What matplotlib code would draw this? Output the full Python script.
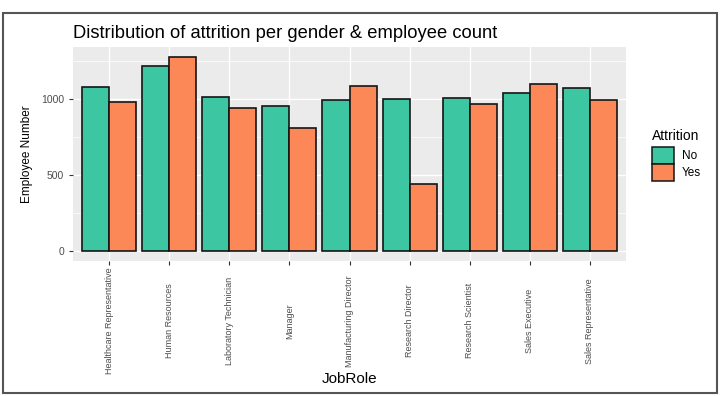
import numpy as np
import matplotlib
matplotlib.use("Agg")
import matplotlib.pyplot as plt
from matplotlib.patches import Patch, Rectangle
from matplotlib.ticker import MultipleLocator

plt.rcParams['font.family'] = ['Liberation Sans', 'DejaVu Sans']

# 数据
job_roles = ["Healthcare Representative", "Human Resources", "Laboratory Technician",
             "Manager", "Manufacturing Director", "Research Director",
             "Research Scientist", "Sales Executive", "Sales Representative"]
attrition_no = [1081, 1222, 1015, 954, 993, 1004, 1011, 1042, 1073]
attrition_yes = [980, 1281, 945, 813, 1086, 442, 969, 1099, 995]
legend_labels = ["No", "Yes"]

COLOR_NO = "#3CC6A2"
COLOR_YES = "#FC8858"

fig = plt.figure(figsize=(7.2, 3.96), dpi=100)
ax = fig.add_axes([73 / 720, 1 - 261 / 396, 553 / 720, 214 / 396])
ax.set_facecolor("#EBEBEB")

x = np.arange(len(job_roles))
w = 0.45
ax.bar(x - w / 2, attrition_no, width=w, color=COLOR_NO, edgecolor="#151515", linewidth=1.2, zorder=3)
ax.bar(x + w / 2, attrition_yes, width=w, color=COLOR_YES, edgecolor="#151515", linewidth=1.2, zorder=3)

ymax = max(max(attrition_no), max(attrition_yes))
ax.set_ylim(-0.05 * ymax, 1.05 * ymax)
ax.set_xlim(-0.6, len(job_roles) - 0.4)

# 网格
ax.yaxis.set_major_locator(MultipleLocator(500))
ax.yaxis.set_minor_locator(MultipleLocator(250))
ax.grid(which="major", color="white", linewidth=1.0, zorder=0)
ax.grid(which="minor", axis="y", color="white", linewidth=0.5, zorder=0)
ax.set_axisbelow(True)
for s in ax.spines.values():
    s.set_visible(False)

ax.set_xticks(x)
ax.set_xticklabels(job_roles, rotation=90, va="center", ha="center")
ax.tick_params(axis="x", length=3, color="#333333", labelcolor="#4D4D4D", labelsize=6.5, pad=40)
ax.tick_params(axis="y", which="major", length=3, color="#333333", labelcolor="#4D4D4D", labelsize=7.5)
ax.tick_params(axis="y", which="minor", length=0)

# 标题和轴标签
fig.text(73 / 720, 1 - 34 / 396, "Distribution of attrition per gender & employee count",
         fontsize=13.2, va="center", ha="left", color="black")
fig.text(27 / 720, 1 - 154 / 396, "Employee Number", rotation=90, fontsize=8.5,
         va="center", ha="center")
fig.text(350 / 720, 1 - 379 / 396, "JobRole", fontsize=11, va="center", ha="center")

# 图例
handles = [Patch(facecolor=COLOR_NO, edgecolor="#151515", linewidth=1.1),
           Patch(facecolor=COLOR_YES, edgecolor="#151515", linewidth=1.1)]
leg = fig.legend(handles, legend_labels, title="Attrition", loc="upper left",
                 bbox_to_anchor=(647 / 720, 1 - 124 / 396), frameon=False,
                 fontsize=8.5, title_fontsize=10, handlelength=1.86, handleheight=1.84,
                 handletextpad=0.7, labelspacing=0.0, borderaxespad=0)
leg._legend_box.align = "left"
leg._legend_box.sep = 3

# 外框
fig.patches.append(Rectangle((3 / 720, 3 / 396), 714 / 720, 380 / 396, transform=fig.transFigure,
                             fill=False, edgecolor="#555555", linewidth=1.5))

fig.savefig("out.png", dpi=100)
